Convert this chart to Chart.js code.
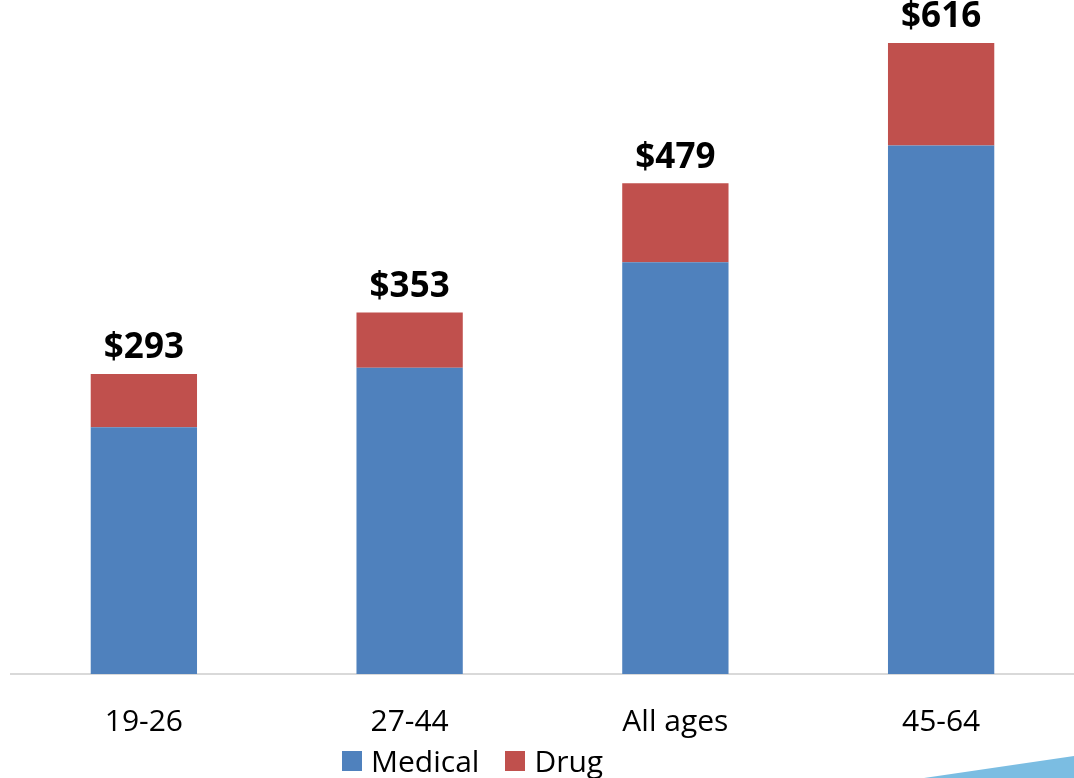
<!DOCTYPE html>
<html lang="en">
<head>
  <meta charset="UTF-8">
  <title>Cost per member by age group</title>
  <script src="https://cdn.jsdelivr.net/npm/chart.js"></script>
  <style>
    html, body { margin: 0; padding: 0; background: #fff; }
    .wrap { position: relative; width: 1074px; height: 778px; overflow: hidden; font-family: 'Open Sans', sans-serif; }
    #costChart { display: block; }
    .legend { position: absolute; left: 342px; top: 740px; display: flex; align-items: center; font-size: 30px; color: #000; }
    .legend span.item { display: flex; align-items: center; margin-right: 26px; }
    .legend i { display: inline-block; width: 20px; height: 20px; margin-right: 9px; }
    .corner { position: absolute; right: 0; bottom: 0; width: 150px; height: 22px; background: #7bbde2; clip-path: polygon(100% 0, 100% 100%, 0 100%); }
  </style>
</head>
<body>
<div class="wrap">
  <canvas id="costChart" width="1074" height="778"></canvas>
  <div class="legend" id="legend"></div>
  <div class="corner"></div>
</div>

<script>
const categories = ['19-26', '27-44', 'All ages', '45-64'];
const medical = [241, 299, 402, 516];
const drug = [52, 54, 77, 100];
const seriesNames = ['Medical', 'Drug'];
const seriesColors = ['#4f81bd', '#c0504d'];

// total above each stacked bar
const totalLabels = {
  id: 'totalLabels',
  afterDatasetsDraw(chart) {
    const { ctx } = chart;
    const meta = chart.getDatasetMeta(1);
    ctx.save();
    ctx.font = 'bold 35px "Open Sans", sans-serif';
    ctx.fillStyle = '#000';
    ctx.textAlign = 'center';
    ctx.textBaseline = 'bottom';
    meta.data.forEach((bar, i) => {
      const total = medical[i] + drug[i];
      ctx.fillText('$' + total, bar.x, bar.y - 8);
    });
    ctx.restore();
  }
};

new Chart(document.getElementById('costChart'), {
  type: 'bar',
  data: {
    labels: categories,
    datasets: [
      { label: seriesNames[0], data: medical, backgroundColor: seriesColors[0] },
      { label: seriesNames[1], data: drug, backgroundColor: seriesColors[1] }
    ]
  },
  options: {
    responsive: false,
    animation: false,
    layout: { padding: { left: 11, right: 0, top: 0, bottom: 8 } },
    datasets: { bar: { categoryPercentage: 1, barPercentage: 0.4 } },
    plugins: { legend: { display: false }, tooltip: { enabled: false } },
    scales: {
      x: {
        stacked: true,
        grid: { display: false, drawTicks: false, tickLength: 0 },
        border: { display: true, color: '#d9d9d9', width: 2 },
        ticks: { color: '#000', padding: 30, font: { family: '"Open Sans", sans-serif', size: 30 } }
      },
      y: {
        stacked: true,
        display: false,
        min: 0,
        max: 658
      }
    }
  },
  plugins: [totalLabels]
});

// legend built from the series
const legend = document.getElementById('legend');
seriesNames.forEach((name, i) => {
  const item = document.createElement('span');
  item.className = 'item';
  item.innerHTML = '<i style="background:' + seriesColors[i] + '"></i>' + name;
  legend.appendChild(item);
});
</script>
</body>
</html>
